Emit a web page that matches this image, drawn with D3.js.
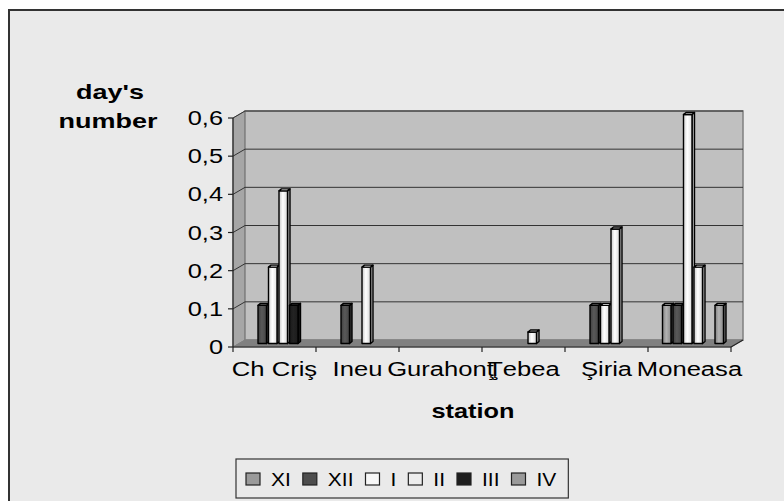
<!doctype html>
<html>
 <head>
  <meta charset='utf-8'>
  <title>day's number</title>
  <style>
    html,body{margin:0;background:#fff;}
    svg{display:block;}
    text{font-family:'Liberation Sans',Arial,sans-serif;fill:#000;}
  </style>
 </head>
 <body>
  <svg id='chart' width='784' height='501'></svg>
 </body>
</html>
<script src='https://cdn.jsdelivr.net/npm/d3@7/dist/d3.min.js'></script>
<script>

  // data
  var stations = ['Ch Criş','Ineu','Gurahonţ','Ţebea','Şiria','Moneasa']
  var months   = ['XI','XII','I','II','III','IV']
  var XI  = [0,   0,   0, 0,    0,   0.1]
  var XII = [0.1, 0.1, 0, 0,    0.1, 0.1]
  var I   = [0.2, 0,   0, 0,    0.1, 0.6]
  var II  = [0.4, 0.2, 0, 0.03, 0.3, 0.2]
  var III = [0.1, 0,   0, 0,    0,   0]
  var IV  = [0,   0,   0, 0,    0,   0.1]
  var yTicks  = [0,0.1,0.2,0.3,0.4,0.5,0.6]
  var colors  = ['#9a9a9a','#4d4d4d','#f7f7f7','#ededed','#1e1e1e','#9a9a9a']

  var series = [XI,XII,I,II,III,IV]

  var svg = d3.select('#chart')

  // chart area + frame
  svg.append('rect')
     .attr('x',9).attr('y',10).attr('width',800).attr('height',520)
     .attr('fill','#eaeaea').attr('stroke','#333').attr('stroke-width',2)

  /*
   * scales
   */
  var x = d3.scaleBand().domain(stations).range([233,731]).padding(0)
  var y = d3.scaleLinear().domain([0,0.6]).range([347,118])
  var depthX = 12, depthY = -7
  var slot = 10.5
  var sub = d3.scaleBand().domain(months).range([0,slot*months.length]).padding(0)
  var groupOffset = 8.5

  var comma = d3.formatLocale({decimal:',',thousands:'.',grouping:[3],currency:['','']}).format('~g')

  // stretched text helper
  function label(g,px,py,str,size,bold,anchor,sx){
    return g.append('text')
      .attr('transform','translate('+px+','+py+') scale('+(sx||1.3)+',1)')
      .attr('font-size',size)
      .attr('font-weight',bold ? 'bold' : 'normal')
      .attr('text-anchor',anchor || 'start')
      .text(str)
  }

  /*
   * walls
   */
  var x0 = x.range()[0], x1 = x.range()[1]
  var yb = y(0), yt = y(0.6)
  var walls = svg.append('g')

  walls.append('polygon')
    .attr('points',[[x0,yb],[x0,yt],[x0+depthX,yt+depthY],[x0+depthX,yb+depthY]].join(' '))
    .attr('fill','#a6a6a6').attr('stroke','#808080')

  walls.append('rect')
    .attr('x',x0+depthX).attr('y',yt+depthY)
    .attr('width',x1-x0).attr('height',yb-yt)
    .attr('fill','#c0c0c0').attr('stroke','#808080').attr('stroke-width',1.5)

  walls.append('polygon')
    .attr('points',[[x0,yb],[x0+depthX,yb+depthY],[x1+depthX,yb+depthY],[x1,yb]].join(' '))
    .attr('fill','#808080').attr('stroke','#808080')

  // grid
  walls.selectAll('.grid')
    .data(yTicks.filter(function(d){ return d>0 }))
    .enter()
    .append('polyline')
    .attr('fill','none').attr('stroke','#333').attr('stroke-width',1)
    .attr('points',function(d){
      return [[x0,y(d)],[x0+depthX,y(d)+depthY],[x1+depthX,y(d)+depthY]].join(' ')
    })

  /*
   * bars
   */
  var defs = svg.append('defs')
  colors.forEach(function(c,i){
    var gr = defs.append('linearGradient').attr('id','g'+i)
    var base = d3.color(c)
    gr.append('stop').attr('offset','0%').attr('stop-color',base.darker(0.5))
    gr.append('stop').attr('offset','45%').attr('stop-color',base.brighter(0.4))
    gr.append('stop').attr('offset','100%').attr('stop-color',base.darker(0.3))
  })

  var bw = 8.5, bd = 2.5, bh = -2
  var bars = svg.append('g')

  series.forEach(function(vals,si){
    vals.forEach(function(v,ci){
      if(!v) return
      var bx = x(stations[ci]) + groupOffset + sub(months[si]) + depthX/2
      var top = y(v) + depthY/2
      var bot = y(0) + depthY/2
      var g = bars.append('g')
        .attr('stroke','#000').attr('stroke-width',1.4).attr('stroke-linejoin','round')
      g.append('polygon')
        .attr('points',[[bx+bw,bot],[bx+bw,top],[bx+bw+bd,top+bh],[bx+bw+bd,bot+bh]].join(' '))
        .attr('fill',d3.color(colors[si]).darker(0.8))
      g.append('rect')
        .attr('x',bx).attr('y',top).attr('width',bw).attr('height',bot-top)
        .attr('fill','url(#g'+si+')')
      g.append('polygon')
        .attr('points',[[bx,top],[bx+bd,top+bh],[bx+bw+bd,top+bh],[bx+bw,top]].join(' '))
        .attr('fill',d3.color(colors[si]).brighter(0.3))
    })
  })

  /*
   * axes
   */
  var axes = svg.append('g').attr('stroke','#222').attr('stroke-width',1.2)
  axes.append('line').attr('x1',x0).attr('x2',x0).attr('y1',yb).attr('y2',yt)
  axes.append('line').attr('x1',x0).attr('x2',x1).attr('y1',yb).attr('y2',yb)
  axes.append('line').attr('x1',x1).attr('x2',x1+depthX).attr('y1',yb).attr('y2',yb+depthY)
  axes.selectAll('.yt').data(yTicks).enter().append('line')
    .attr('x1',x0-5).attr('x2',x0).attr('y1',function(d){ return y(d) }).attr('y2',function(d){ return y(d) })
  axes.selectAll('.xt').data(stations.concat(['end'])).enter().append('line')
    .attr('x1',function(d,i){ return x0 + i*x.bandwidth() })
    .attr('x2',function(d,i){ return x0 + i*x.bandwidth() })
    .attr('y1',yb).attr('y2',yb+5)

  var labels = svg.append('g')
  yTicks.forEach(function(t){
    label(labels,x0-10,y(t)+7,comma(t),19.5,false,'end')
  })
  stations.forEach(function(s){
    label(labels,x(s)+x.bandwidth()/2,376,s,20,false,'middle',1.28)
  })

  label(labels,110,99,"day's",20,true,'middle',1.35)
  label(labels,108,128,'number',20,true,'middle',1.35)
  label(labels,473,418,'station',19.5,true,'middle',1.3)

  /*
   * legend
   */
  var leg = svg.append('g')
  var lx = 246
  months.forEach(function(m,i){
    leg.append('rect')
      .attr('x',lx).attr('y',473).attr('width',14).attr('height',12)
      .attr('fill',colors[i]).attr('stroke','#222').attr('stroke-width',1.2)
    var t = label(leg,lx+25,486,m,17.5,false,'start',1.2)
    lx += 25 + t.node().getComputedTextLength()*1.2 + 12
  })
  leg.insert('rect',':first-child')
    .attr('x',236).attr('y',459).attr('width',lx-236).attr('height',39)
    .attr('fill','#eaeaea').attr('stroke','#333').attr('stroke-width',1.2)

</script>
